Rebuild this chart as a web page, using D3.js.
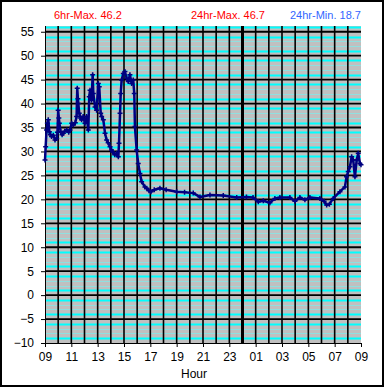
<!DOCTYPE html>
<html>
<head>
<meta charset="utf-8">
<script src="https://cdn.jsdelivr.net/npm/d3@7"></script>
<style>
  body { margin: 0; background: #fff; }
  svg text { font-family: Arial, "Liberation Sans", sans-serif; }
  .axis text { font-size: 12px; fill: #000; }
  .axis path, .axis line { stroke: #000; }
</style>
</head>
<body>
<svg id="chart"></svg>
<script>
'use strict'

// hours after 09:00
const hours = [0.00, 0.05, 0.12, 0.18, 0.25, 0.33, 0.42, 0.50, 0.63, 0.76, 0.89, 0.95, 1.00, 1.05, 1.09, 1.19, 1.30, 1.39, 1.50, 1.65,
  1.80, 1.90, 2.03, 2.15, 2.30, 2.40, 2.45, 2.50, 2.53, 2.60, 2.70, 2.78, 2.90, 3.04, 3.16, 3.29, 3.36, 3.42, 3.48, 3.54,
  3.62, 3.67, 3.80, 3.92, 4.05, 4.12, 4.23, 4.30, 4.43, 4.56, 4.68, 4.80, 4.94, 5.05, 5.14, 5.30, 5.44, 5.57, 5.62, 5.70,
  5.75, 5.82, 5.95, 6.07, 6.20, 6.32, 6.45, 6.58, 6.70, 6.78, 6.83, 6.96, 7.08, 7.21, 7.34, 7.59, 7.72, 7.90, 8.05, 8.30,
  8.73, 9.20, 10.0, 10.6, 11.26, 11.77, 12.53, 13.54, 14.56, 15.30, 15.80, 16.20, 16.58, 17.08, 17.46, 17.84, 18.60, 18.98, 19.36, 19.74,
  20.12, 20.88, 21.20, 21.39, 21.60, 21.89, 22.40, 22.78, 22.90, 23.03, 23.16, 23.29, 23.41, 23.54, 23.67, 23.79, 23.92, 24.00]
const temps = [28.2, 31.0, 34.5, 35.9, 36.6, 34.1, 33.5, 33.1, 33.4, 32.4, 32.7, 34.0, 38.6, 37.0, 35.9, 34.1, 33.5, 33.8, 34.2, 34.5,
  34.0, 34.5, 35.9, 35.5, 36.0, 37.3, 43.2, 41.0, 40.0, 38.0, 37.0, 36.6, 37.3, 35.9, 37.3, 34.5, 41.4, 42.8, 41.5, 40.7,
  46.0, 42.1, 39.3, 38.6, 44.2, 43.5, 38.0, 37.3, 36.6, 33.8, 32.4, 31.8, 31.0, 30.3, 29.9, 29.3, 29.6, 28.9, 31.7, 38.0,
  42.1, 44.9, 46.3, 46.7, 45.3, 44.6, 46.0, 44.2, 44.9, 42.1, 35.2, 30.3, 27.5, 25.4, 23.7, 22.6, 22.3, 21.8, 21.6, 22.0,
  22.3, 22.0, 21.6, 21.5, 21.3, 20.5, 20.9, 20.8, 20.4, 20.5, 20.4, 19.5, 19.7, 19.3, 20.2, 20.4, 20.4, 19.6, 20.4, 19.9,
  20.4, 20.2, 19.6, 18.8, 19.0, 20.2, 21.6, 22.6, 24.7, 25.8, 26.8, 28.9, 28.2, 24.7, 28.2, 29.6, 27.5, 27.2]

const xTickLabels = ['09', '11', '13', '15', '17', '19', '21', '23', '01', '03', '05', '07', '09']
const yTicks = [-10, -5, 0, 5, 10, 15, 20, 25, 30, 35, 40, 45, 50, 55]
const headers = [
  { text: '6hr-Max. 46.2', color: '#ff0000' },
  { text: '24hr-Max. 46.7', color: '#ff0000' },
  { text: '24hr-Min. 18.7', color: '#3366ff' }
]

const width = 385, height = 388
const plot = { left: 45, right: 361, top: 26, bottom: 343 }

const svg = d3.select('#chart').attr('width', width).attr('height', height)

// outer frame
svg.append('rect')
  .attr('x', 1).attr('y', 1)
  .attr('width', 382).attr('height', 385)
  .attr('fill', '#fff').attr('stroke', '#000').attr('stroke-width', 2)

const x = d3.scaleLinear().domain([0, 24]).range([plot.left, plot.right])
const y = d3.scaleLinear().domain([-10, 56.2]).range([plot.bottom, plot.top])

// plot background
svg.append('rect')
  .attr('x', plot.left).attr('y', plot.top)
  .attr('width', plot.right - plot.left).attr('height', plot.bottom - plot.top)
  .attr('fill', '#c0c0c0')

// minor horizontal grid (every unit) - outer two of each band bright, inner two faint
const minor = d3.range(-9, 57).filter(v => v % 5 !== 0)
const bright = d => { const m = ((d % 5) + 5) % 5; return m === 1 || m === 4 }
svg.append('g').selectAll('line').data(minor).enter().append('line')
  .attr('x1', plot.left).attr('x2', plot.right)
  .attr('y1', d => Math.round(y(d)) + 0.5).attr('y2', d => Math.round(y(d)) + 0.5)
  .attr('stroke', d => bright(d) ? '#00ffff' : '#90e0e0')
  .attr('stroke-width', d => bright(d) ? 2 : 1)

// major horizontal grid
svg.append('g').selectAll('line').data(yTicks.slice(1)).enter().append('line')
  .attr('x1', plot.left).attr('x2', plot.right)
  .attr('y1', d => y(d)).attr('y2', d => y(d))
  .attr('stroke', '#000').attr('stroke-width', 1.8)

// vertical grid, every hour; midnight is heavier
svg.append('g').selectAll('line').data(d3.range(1, 24)).enter().append('line')
  .attr('x1', d => x(d)).attr('x2', d => x(d))
  .attr('y1', plot.top).attr('y2', plot.bottom)
  .attr('stroke', '#000').attr('stroke-width', d => d === 15 ? 3 : 1.6)

// axes
svg.append('g').classed('axis', true)
  .attr('transform', 'translate(0,' + plot.bottom + ')')
  .call(d3.axisBottom(x).tickValues(d3.range(0, 25, 2))
    .tickFormat((d, i) => xTickLabels[i]).tickSize(4).tickSizeOuter(0).tickPadding(5))

svg.append('g').classed('axis', true)
  .attr('transform', 'translate(' + plot.left + ',0)')
  .call(d3.axisLeft(y).tickValues(yTicks).tickSize(4).tickSizeOuter(0).tickPadding(7))
  .select('.domain').attr('d', 'M0.5,' + plot.top + 'V' + plot.bottom)

// axis title
svg.append('text')
  .attr('x', 194).attr('y', 378)
  .attr('text-anchor', 'middle')
  .style('font-size', '12px')
  .text('Hour')

// headers
const headerX = [54, 191, 290]
svg.selectAll('.hdr').data(headers).enter().append('text')
  .attr('class', 'hdr')
  .attr('x', (d, i) => headerX[i]).attr('y', 18.5)
  .attr('fill', d => d.color)
  .style('font-size', '11px')
  .text(d => d.text)

// temperature series
const points = hours.map((h, i) => ({ h: h, t: temps[i] }))
const line = d3.line().x(d => x(d.h)).y(d => y(d.t))

svg.append('path')
  .datum(points)
  .attr('d', line)
  .attr('fill', 'none')
  .attr('stroke', '#000080')
  .attr('stroke-width', 2.5)
  .attr('stroke-linejoin', 'round')

svg.append('g').selectAll('path').data(points).enter().append('path')
  .attr('transform', d => 'translate(' + x(d.h) + ',' + y(d.t) + ')')
  .attr('d', 'M-2.5,0H2.5M0,-2.5V2.5')
  .attr('stroke', '#000080')
  .attr('stroke-width', 1.5)
</script>
</body>
</html>
